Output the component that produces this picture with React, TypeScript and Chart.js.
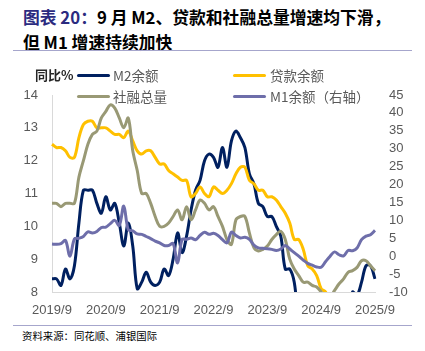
import React, { useEffect, useRef } from 'react';
import { Chart, registerables } from 'chart.js';

Chart.register(...registerables);

// Monthly categories: 2019/9 .. 2025/9
const START_YEAR = 2019;
const START_MONTH = 9;
const MONTH_COUNT = 73;
const categories: string[] = Array.from({ length: MONTH_COUNT }, (_, i) => {
  const m = START_MONTH - 1 + i;
  return `${START_YEAR + Math.floor(m / 12)}/${(m % 12) + 1}`;
});

const tickLabels = ['2019/9', '2020/9', '2021/9', '2022/9', '2023/9', '2024/9', '2025/9'];

// M2余额 同比 (%)
const m2Values = [
  8.4, 8.4, 8.2, 8.7,
  8.4, 8.8, 10.1, 11.1, 11.1, 11.1, 10.7, 10.4, 10.9, 10.5, 10.7, 10.1,
  9.4, 10.1, 9.4, 8.1, 8.3, 8.6, 8.3, 8.2, 8.3, 8.7, 8.5, 9.0,
  9.8, 9.2, 9.7, 10.5, 11.1, 11.4, 12.0, 12.2, 12.1, 11.8, 12.4, 11.8,
  12.6, 12.9, 12.7, 12.4, 11.6, 11.3, 10.7, 10.6, 10.3, 10.3, 10.0, 9.7,
  8.7, 8.7, 8.3, 7.2, 7.0, 6.2, 6.3, 6.3, 6.8, 7.5, 7.1, 7.3,
  7.0, 7.0, 7.0, 8.0, 7.9, 8.3, 8.8, 8.8, 8.4,
];

// 贷款余额 同比 (%)
const loanValues = [
  12.5, 12.4, 12.4, 12.3,
  12.1, 12.1, 12.7, 13.1, 13.2, 13.2, 13.0, 13.0, 13.0, 12.9, 12.8, 12.8,
  12.7, 12.9, 12.6, 12.3, 12.2, 12.3, 12.3, 12.1, 11.9, 11.9, 11.7, 11.6,
  11.5, 11.4, 11.4, 10.9, 11.0, 11.2, 11.0, 10.9, 11.2, 11.1, 11.0, 11.1,
  11.3, 11.6, 11.8, 11.8, 11.4, 11.3, 11.1, 11.1, 10.9, 10.9, 10.8, 10.6,
  10.4, 10.1, 9.6, 9.6, 9.3, 8.8, 8.7, 8.5, 8.1, 8.0, 7.7, 7.6,
  7.5, 7.3, 7.4, 7.2, 7.1, 7.1, 6.9, 6.8, 6.6,
];

// 社融总量 同比 (%)
const sfValues = [
  10.7, 10.7, 10.6, 10.7,
  10.7, 10.7, 11.5, 12.0, 12.5, 12.8, 12.9, 13.3, 13.5, 13.7, 13.6, 13.3,
  13.0, 13.3, 12.3, 11.7, 11.0, 11.0, 10.7, 10.3, 10.0, 10.0, 10.1, 10.3,
  10.5, 10.2, 10.6, 10.2, 10.5, 10.8, 10.7, 10.5, 10.6, 10.3, 10.0, 9.6,
  9.45, 10.2, 10.3, 10.3, 9.8, 9.35, 9.25, 9.3, 9.4, 9.6, 9.75, 9.85,
  9.6, 9.0, 8.7, 8.5, 8.3, 8.3, 8.2, 8.15, 8.0, 7.8, 7.85, 8.05,
  8.25, 8.4, 8.6, 8.65, 8.75, 8.95, 8.95, 8.8, 8.65,
];

// M1余额 同比 (%)，右轴
const m1Values = [
  3.4, 3.3, 3.5, 4.4,
  0.0, 4.8, 5.0, 5.5, 6.8, 6.5, 6.9, 8.0, 8.1, 9.1, 10.0, 8.6,
  14.0, 7.4, 7.1, 6.2, 6.1, 5.5, 4.9, 4.2, 3.7, 3.0, 3.0, 3.5,
  -1.9, 4.7, 4.7, 5.1, 4.6, 5.8, 6.7, 6.1, 6.4, 5.8, 4.6, 3.7,
  6.7, 5.8, 5.1, 5.3, 4.7, 3.1, 2.3, 2.2, 2.1, 1.9, 1.6, 2.0,
  3.0, 2.0, 1.0, 0.0, -1.1, -2.0, -2.5, -3.0, -3.1, -1.5, 0.0, 1.2,
  0.4, 0.1, 1.6, 1.5, 2.3, 4.6, 5.6, 6.0, 7.2,
];

const seriesNames = ['M2余额', '贷款余额', '社融总量', 'M1余额（右轴）'];
const seriesColors = ['#002060', '#FFC000', '#999975', '#6E6EAA'];

const TICK_COLOR = '#595959';
const TICK_FONT = 'Liberation Sans';

export default function App() {
  const canvasRef = useRef<HTMLCanvasElement | null>(null);

  useEffect(() => {
    if (!canvasRef.current) return;
    const chart = new Chart(canvasRef.current, {
      type: 'line',
      data: {
        labels: categories,
        datasets: [
          { label: seriesNames[0], data: m2Values, yAxisID: 'y', borderColor: seriesColors[0], order: 3 },
          { label: seriesNames[1], data: loanValues, yAxisID: 'y', borderColor: seriesColors[1], order: 2 },
          { label: seriesNames[2], data: sfValues, yAxisID: 'y', borderColor: seriesColors[2], order: 1 },
          { label: seriesNames[3], data: m1Values, yAxisID: 'y1', borderColor: seriesColors[3], order: 0 },
        ].map((d) => ({
          ...d,
          borderWidth: 3,
          pointRadius: 0,
          pointHoverRadius: 0,
          tension: 0.35,
          fill: false,
        })),
      },
      options: {
        responsive: false,
        animation: false,
        devicePixelRatio: 1,
        layout: { padding: { top: 35, left: 0, right: 0, bottom: 0 } },
        plugins: {
          legend: { display: false },
          tooltip: { enabled: false },
        },
        scales: {
          x: {
            type: 'category',
            offset: false,
            grid: { display: false, drawTicks: false },
            border: { display: true, color: '#D9D9D9', width: 1 },
            ticks: {
              autoSkip: false,
              maxRotation: 0,
              minRotation: 0,
              padding: 11,
              color: TICK_COLOR,
              font: { family: TICK_FONT, size: 13 },
              callback: (_v: any, i: number) => (tickLabels.includes(categories[i]) ? categories[i] : ''),
            },
            afterFit: (s: any) => {
              s.height = 30;
            },
          },
          y: {
            position: 'left',
            min: 8,
            max: 14,
            grid: { display: false, drawTicks: false },
            border: { display: true, color: '#D9D9D9', width: 1 },
            ticks: {
              stepSize: 1,
              autoSkip: false,
              padding: 14,
              color: TICK_COLOR,
              font: { family: TICK_FONT, size: 13 },
            },
            afterFit: (s: any) => {
              s.width = 52;
            },
          },
          y1: {
            position: 'right',
            min: -10,
            max: 45,
            grid: { display: false, drawTicks: false },
            border: { display: false },
            ticks: {
              stepSize: 5,
              autoSkip: false,
              padding: 14,
              color: TICK_COLOR,
              font: { family: TICK_FONT, size: 13 },
            },
            afterFit: (s: any) => {
              s.width = 50;
            },
          },
        },
      },
    } as any);
    return () => chart.destroy();
  }, []);

  const legendText: React.CSSProperties = {
    position: 'absolute',
    fontFamily: '"Noto Sans CJK SC", sans-serif',
    fontSize: 13.5,
    color: '#595959',
    lineHeight: '18px',
    whiteSpace: 'nowrap',
  };
  const legendLine = (left: number, top: number, color: string): React.CSSProperties => ({
    position: 'absolute',
    left,
    top: top - 1.5,
    width: 33,
    height: 3,
    borderRadius: 1.5,
    background: color,
  });

  return (
    <div
      style={{
        position: 'absolute',
        left: 0,
        top: 0,
        width: 425,
        height: 351,
        background: '#ffffff',
        overflow: 'hidden',
      }}
    >
      <div
        style={{
          position: 'absolute',
          left: 23,
          top: 4.5,
          fontFamily: '"Noto Sans CJK SC", sans-serif',
          fontWeight: 'bold',
          fontSize: 16.8,
          lineHeight: '25px',
          color: '#000000',
          whiteSpace: 'nowrap',
        }}
      >
        <span style={{ color: '#2B2B80' }}>图表 20：</span>9 月 M2、贷款和社融总量增速均下滑，
        <br />
        但 M1 增速持续加快
      </div>
      <div style={{ position: 'absolute', left: 13, top: 49.5, width: 399, height: 1.5, background: '#A6A6CC' }} />

      <canvas
        ref={canvasRef}
        width={425}
        height={262}
        style={{ position: 'absolute', left: 0, top: 60, width: 425, height: 262 }}
      />

      <div style={{ ...legendText, left: 35, top: 66, color: '#262626', fontWeight: 'bold', fontSize: 13 }}>同比%</div>
      <div style={legendLine(77, 75, seriesColors[0])} />
      <div style={{ ...legendText, left: 113, top: 66 }}>{seriesNames[0]}</div>
      <div style={legendLine(233, 75, seriesColors[1])} />
      <div style={{ ...legendText, left: 270, top: 66 }}>{seriesNames[1]}</div>
      <div style={legendLine(77, 96, seriesColors[2])} />
      <div style={{ ...legendText, left: 113, top: 87 }}>{seriesNames[2]}</div>
      <div style={legendLine(233, 96, seriesColors[3])} />
      <div style={{ ...legendText, left: 270, top: 87 }}>{seriesNames[3]}</div>

      <div style={{ position: 'absolute', left: 13, top: 324.5, width: 399, height: 1.5, background: '#A6A6CC' }} />
      <div
        style={{
          position: 'absolute',
          left: 22,
          top: 329,
          fontFamily: '"Noto Sans CJK SC", sans-serif',
          fontSize: 10.4,
          lineHeight: '14px',
          color: '#000000',
          whiteSpace: 'nowrap',
        }}
      >
        资料来源：同花顺、浦银国际
      </div>
    </div>
  );
}
